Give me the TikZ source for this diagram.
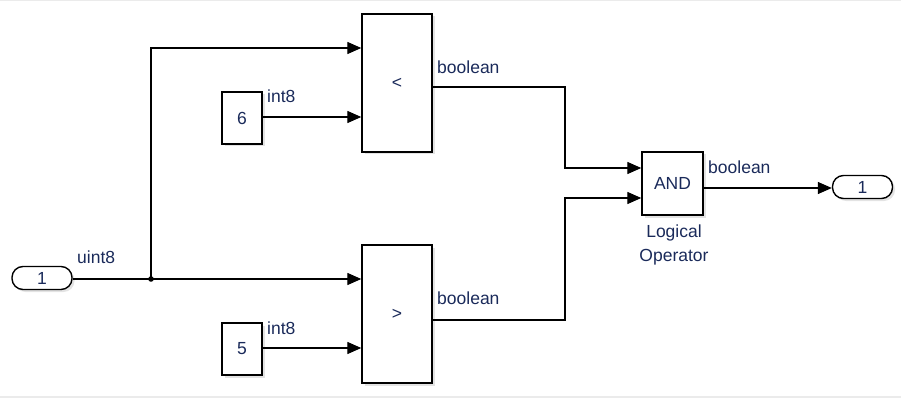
\documentclass[tikz,border=0pt]{standalone}
\usepackage{fontspec}
\setmainfont{Liberation Sans}
\usetikzlibrary{arrows.meta,shadows}
\definecolor{txt}{HTML}{1A2A5A}
\tikzset{
  blk/.style={draw, line width=1.4pt, fill=white, inner sep=0pt, text=txt, font=\fontsize{17.5}{20}\selectfont,
    drop shadow={shadow xshift=2.5pt, shadow yshift=-2.5pt, opacity=0.22}},
  port/.style={blk, rounded corners=11pt, minimum width=60pt, minimum height=23pt},
  lbl/.style={text=txt, font=\fontsize{17.5}{20}\selectfont, inner sep=0pt},
  wire/.style={line width=1.3pt},
  sig/.style={wire, -{Triangle[length=14pt,width=12pt]}}
}
\begin{document}
\begin{tikzpicture}[x=1pt,y=-1pt]
\useasboundingbox (0,0) rectangle (901,398);
\draw[black!8, line width=1.5pt] (0,0.5) -- (901,0.5);
\draw[black!8, line width=1.5pt] (0,397) -- (901,397);

% blocks
\node[port] (in1) at (42,278) {1};
\node[port] (out1) at (862.5,187) {1};
\node[blk, minimum width=70pt, minimum height=138pt] (lt) at (397,83) {<};
\node[blk, minimum width=70pt, minimum height=138pt] (gt) at (397,314) {>};
\node[blk, minimum width=40pt, minimum height=52pt] (c6) at (242,118) {6};
\node[blk, minimum width=40pt, minimum height=52pt] (c5) at (242,349) {5};
\node[blk, minimum width=61pt, minimum height=63pt] (and) at (672.5,183.5) {AND};
\node[lbl, anchor=base] (lo1) at (674,237) {Logical};
\node[lbl, anchor=base] (lo2) at (674,261) {Operator};

% junction and corner coordinates
\coordinate (j) at (151,279);
\coordinate (jt) at (151,48);
\coordinate (a1) at (565,87);
\coordinate (a2) at (565,168);
\coordinate (b1) at (565,320);
\coordinate (b2) at (565,198);
\fill (j) circle (2.8pt);

% wires
\draw[wire] (in1.east |- j) -- (j);
\draw[sig] (j) -- (jt) -- (lt.west |- jt);
\draw[sig] (j) -- (gt.west |- j);
\draw[sig] (c6.east |- 0,117) -- (lt.west |- 0,117);
\draw[sig] (c5.east |- 0,348) -- (gt.west |- 0,348);
\draw[sig] (lt.east |- a1) -- (a1) -- (a2) -- (and.west |- a2);
\draw[sig] (gt.east |- b1) -- (b1) -- (b2) -- (and.west |- b2);
\draw[sig] (and.east |- 0,188) -- (out1.west |- 0,188);

% labels
\node[lbl, anchor=base west] (l1) at (77,263) {uint8};
\node[lbl, anchor=base west] (l2) at (267,103) {int8};
\node[lbl, anchor=base west] (l3) at (267,334) {int8};
\node[lbl, anchor=base west] (l4) at (437,74) {boolean};
\node[lbl, anchor=base west] (l5) at (437,304) {boolean};
\node[lbl, anchor=base west] (l6) at (708,173) {boolean};
\end{tikzpicture}
\end{document}
